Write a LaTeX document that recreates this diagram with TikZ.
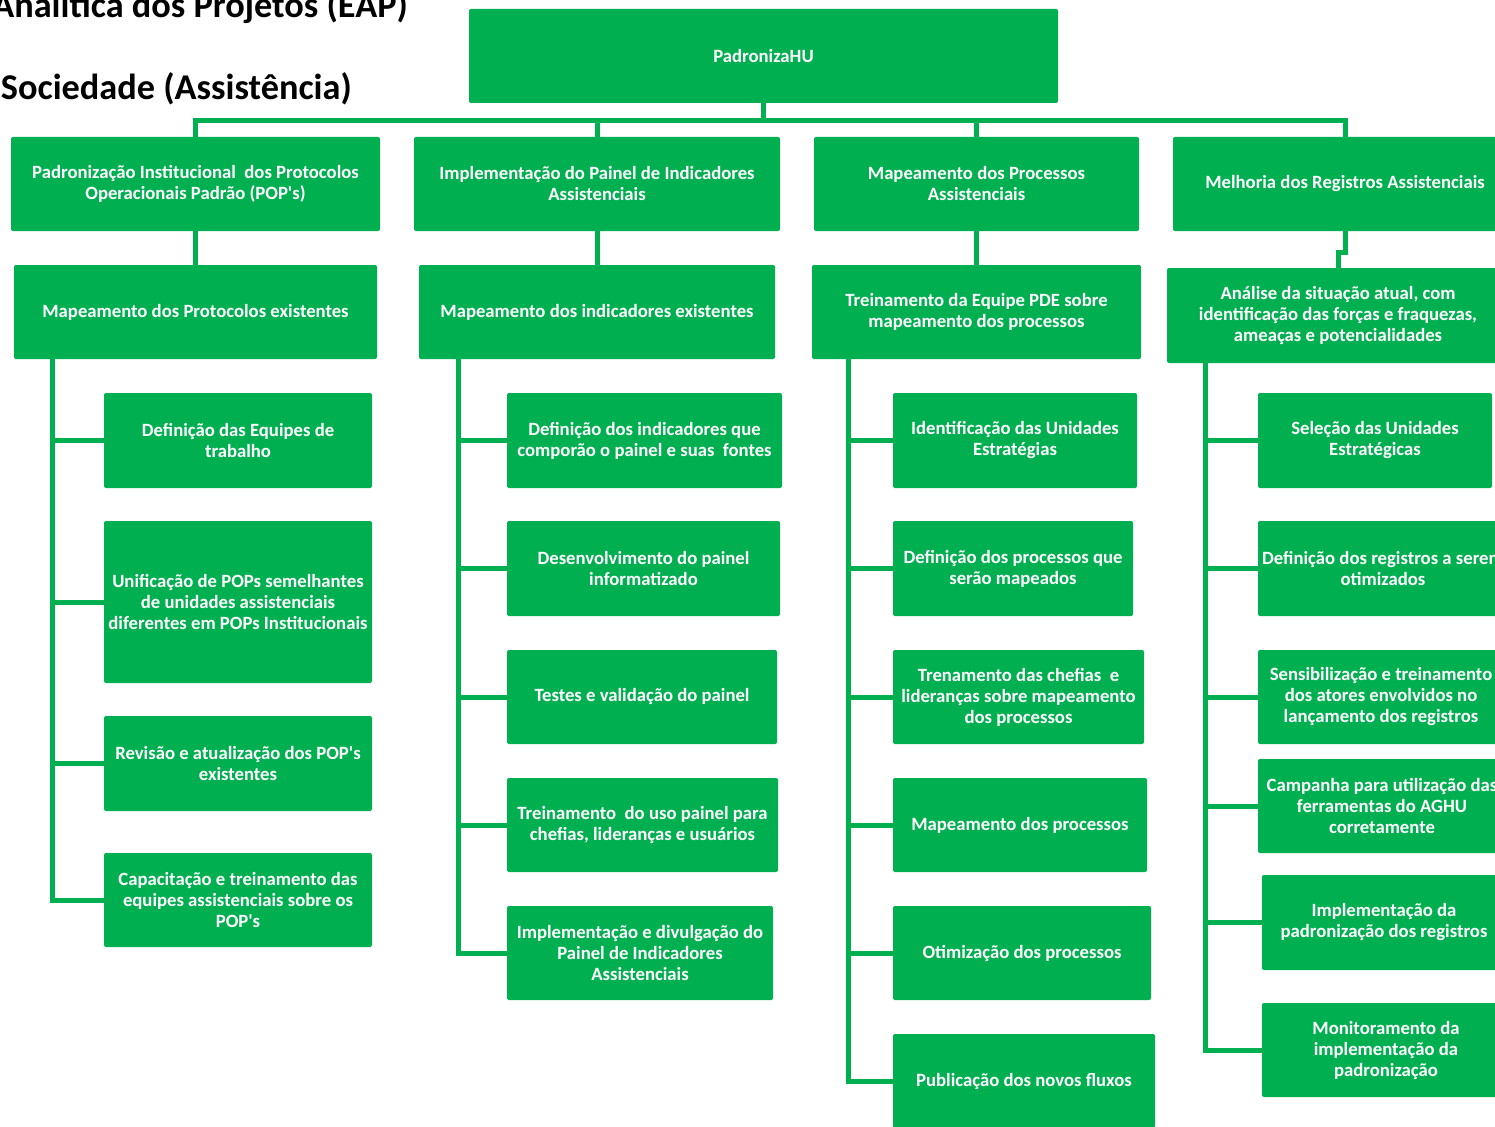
\documentclass[tikz,border=0pt]{standalone}
\usepackage{fontspec}
\setmainfont{Carlito}
\usetikzlibrary{fit,calc}
\definecolor{eapgreen}{HTML}{00B050}
\tikzset{
  box/.style={fill=eapgreen, draw=none, rounded corners=2pt, inner sep=0pt, outer sep=0pt},
  boxtext/.style={inner sep=0pt, text=white, font=\bfseries\fontsize{18.7}{21}\selectfont, align=center, anchor=center},
  conn/.style={draw=eapgreen, line width=5pt},
  eaptitle/.style={font=\bfseries\fontsize{36.3}{42}\selectfont, anchor=base east, inner sep=0pt, text=black}
}
\newcommand\wbsbox[6]{%
  \node[box, fit={(#2,#3) (#4,#5)}] (#1) {};
  \node[boxtext] (#1t) at (#1.center) {#6};}
\newcommand\apos{\textquotesingle}
\begin{document}
\begin{tikzpicture}[x=1pt,y=-1pt]
\useasboundingbox (0,0) rectangle (1495,1126);
\clip (0,0) rectangle (1495,1126);

% titles (cut by the page edges)
\node[eaptitle] (t1) at (408,18) {Analítica dos Projetos (EAP)};
\node[eaptitle] (t2) at (352,100) {Sociedade (Assistência)};

% root
\wbsbox{root}{469}{9}{1058}{103}{PadronizaHU}

% level 1
\wbsbox{A}{11}{137}{380}{231}{Padronização Institucional\ \ dos Protocolos\\Operacionais Padrão (POP\apos s)}
\wbsbox{B}{414}{137}{780}{231}{Implementação do Painel de Indicadores\\Assistenciais}
\wbsbox{C}{814}{137}{1139}{231}{Mapeamento dos Processos\\Assistenciais}
\wbsbox{D}{1173}{137}{1517}{231}{Melhoria dos Registros Assistenciais}

% level 2
\wbsbox{A2}{14}{265}{377}{359}{Mapeamento dos Protocolos existentes}
\wbsbox{B2}{419}{265}{775}{359}{Mapeamento dos indicadores existentes}
\wbsbox{C2}{812}{265}{1141}{359}{Treinamento da Equipe PDE sobre\\mapeamento dos processos}
\wbsbox{D2}{1167}{268}{1509}{363}{Análise da situação atual, com\\identificação das forças e fraquezas,\\ameaças e potencialidades}

% column A
\wbsbox{A3}{104}{393}{372}{488}{Definição das Equipes de\\trabalho}
\wbsbox{A4}{104}{521}{372}{683}{Unificação de POPs semelhantes\\de unidades assistenciais\\diferentes em POPs Institucionais}
\wbsbox{A5}{104}{716}{372}{811}{Revisão e atualização dos POP\apos s\\existentes}
\wbsbox{A6}{104}{853}{372}{947}{Capacitação e treinamento das\\equipes assistenciais sobre os\\POP\apos s}

% column B
\wbsbox{B3}{507}{393}{782}{488}{Definição dos indicadores que\\comporão o painel e suas\ \ fontes}
\wbsbox{B4}{507}{521}{780}{616}{Desenvolvimento do painel\\informatizado}
\wbsbox{B5}{507}{650}{777}{744}{Testes e validação do painel}
\wbsbox{B6}{507}{778}{778}{872}{Treinamento\ \ do uso painel para\\chefias, lideranças e usuários}
\wbsbox{B7}{507}{906}{773}{1000}{Implementação e divulgação do\\Painel de Indicadores\\Assistenciais}

% column C
\wbsbox{C3}{893}{393}{1137}{488}{Identificação das Unidades\\Estratégias}
\wbsbox{C4}{893}{521}{1133}{616}{Definição dos processos que\\serão mapeados}
\wbsbox{C5}{893}{650}{1144}{744}{Trenamento das chefias\ \ e\\lideranças sobre mapeamento\\dos processos}
\wbsbox{C6}{893}{778}{1147}{872}{Mapeamento dos processos}
\wbsbox{C7}{893}{906}{1151}{1000}{Otimização dos processos}
\wbsbox{C8}{893}{1034}{1155}{1128}{Publicação dos novos fluxos}

% column D
\wbsbox{D3}{1258}{393}{1492}{488}{Seleção das Unidades\\Estratégicas}
\wbsbox{D4}{1258}{521}{1508}{616}{Definição dos registros a serem\\otimizados}
\wbsbox{D5}{1258}{650}{1504}{744}{Sensibilização e treinamento\\dos atores envolvidos no\\lançamento dos registros}
\wbsbox{D6}{1258}{759}{1506}{853}{Campanha para utilização das\\ferramentas do AGHU\\corretamente}
\wbsbox{D7}{1262}{875}{1506}{970}{Implementação da\\padronização dos registros}
\wbsbox{D8}{1262}{1003}{1510}{1097}{Monitoramento da\\implementação da\\padronização}

% connectors: root to level 1
\foreach \n in {A,B,C,D}
  \draw[conn] (root.south) -- ++(0,18) -| (\n.north);

% level 1 to level 2
\draw[conn] (A.south) -- (A2.north);
\draw[conn] (B.south) -- (B2.north);
\draw[conn] (C.south) -- (C2.north);
\draw[conn] (D.south) -- ++(0,21) -| (D2.north);

% spines
\coordinate (sa) at ([xshift=38pt]A2.south west);
\coordinate (sb) at ([xshift=39pt]B2.south west);
\coordinate (sc) at ([xshift=36pt]C2.south west);
\coordinate (sd) at ([xshift=38pt]D2.south west);
\foreach \n in {A3,A4,A5,A6} \draw[conn] (sa) |- (\n.west);
\foreach \n in {B3,B4,B5,B6,B7} \draw[conn] (sb) |- (\n.west);
\foreach \n in {C3,C4,C5,C6,C7,C8} \draw[conn] (sc) |- (\n.west);
\foreach \n in {D3,D4,D5,D6,D7,D8} \draw[conn] (sd) |- (\n.west);
\end{tikzpicture}
\end{document}
